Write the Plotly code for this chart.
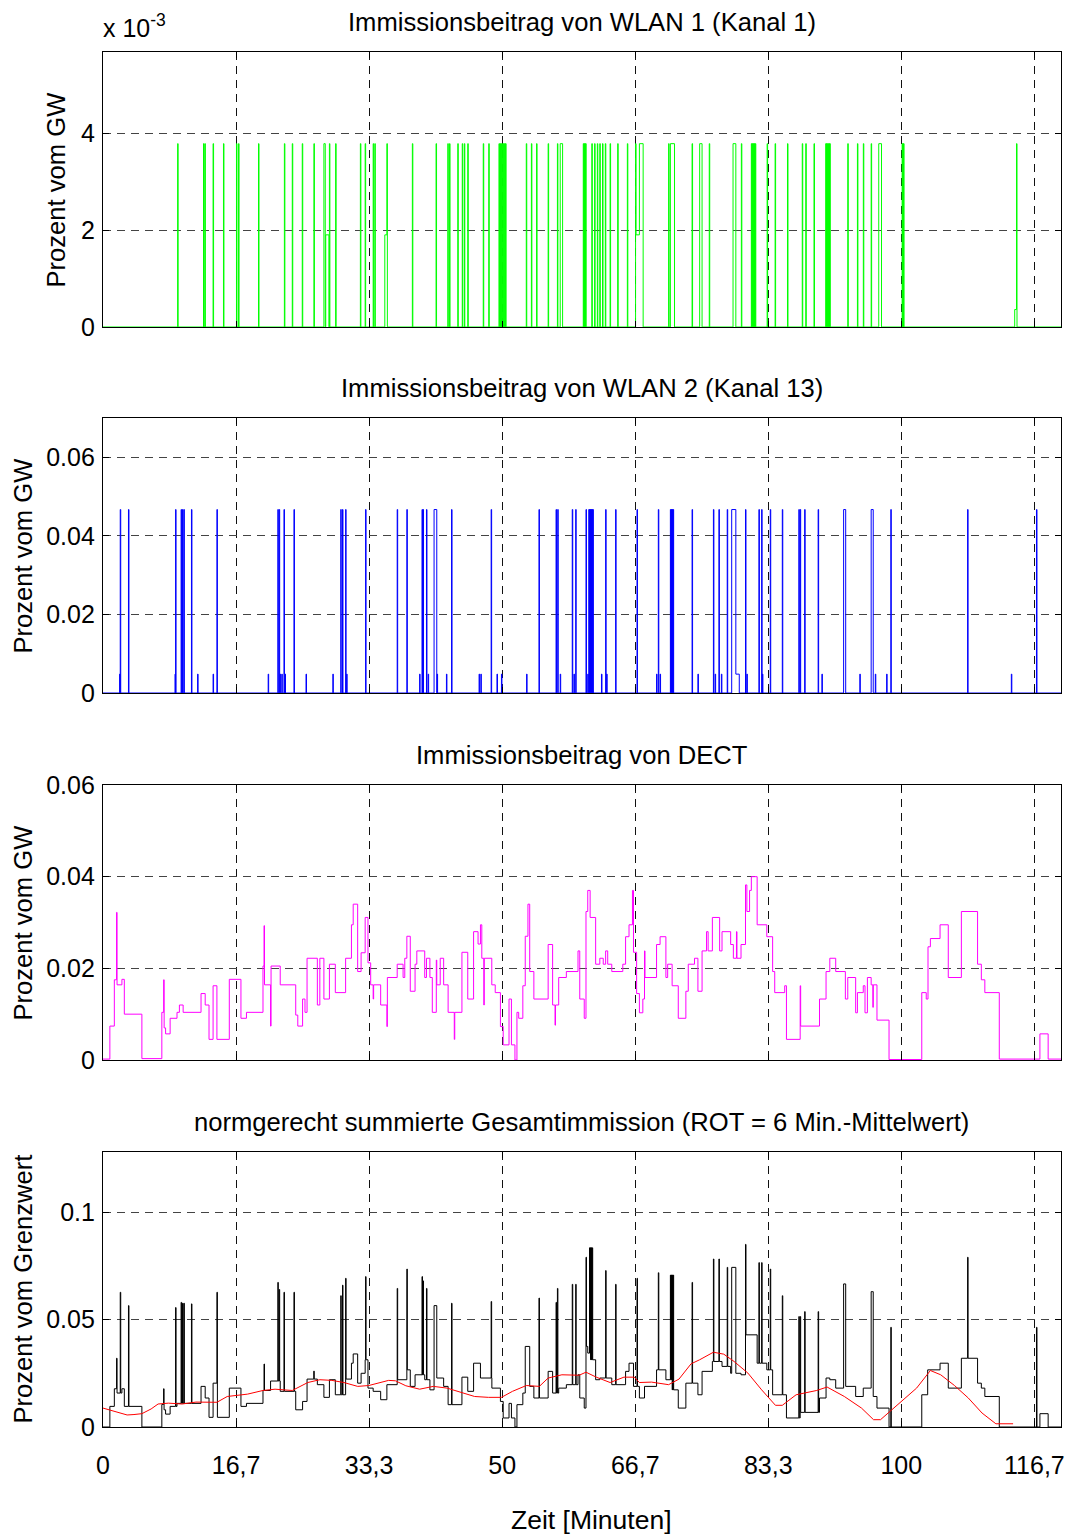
import plotly.graph_objects as go
from bisect import bisect_right

# ---------------------------------------------------------------- data
# time axis (minutes)
T_END = 120.0
x_tickvals = [0, 50 / 3, 100 / 3, 50, 200 / 3, 250 / 3, 100, 350 / 3]
x_ticktext = ["0", "16,7", "33,3", "50", "66,7", "83,3", "100", "116,7"]

SPIKE_W = 0.06  # duration of a single-sample burst (minutes)

# WLAN 1 (channel 1): single bursts at full level plus a few longer blocks
wlan1_level = 0.00378
wlan1_spikes = [9.35, 12.59, 12.76, 13.79, 15.09, 16.72, 16.98, 19.48, 22.72, 23.71,
                24.96, 26.42, 28.36, 29.14, 32.24, 32.84, 33.84, 34.05, 35.56, 38.75,
                41.72, 43.19, 43.41, 44.44, 45.0, 45.26, 45.69, 47.63, 48.32, 49.6,
                49.72, 49.84, 49.96, 50.08, 50.2, 50.32, 50.43, 53.02, 53.66, 54.31,
                55.76, 56.92, 60.16, 60.26, 60.36, 60.46, 61.23, 61.58, 61.92, 62.23,
                62.57, 62.92, 63.52, 64.47, 65.68, 66.71, 70.85, 73.79, 75.94, 79.96,
                81.21, 81.31, 81.41, 81.51, 81.61, 81.71, 83.19, 84.19, 85.74, 87.59,
                88.03, 89.06, 90.53, 90.63, 90.73, 90.83, 90.94, 91.04, 93.29, 94.5,
                95.24, 96.22, 100.1, 100.19, 100.28, 114.43]
wlan1_blocks = [(27.67, 27.84, 0.00378), (27.9, 28.3, 0.0019), (35.3, 35.56, 0.0019),
                (57.27, 57.57, 0.00378), (66.77, 67.19, 0.0019), (67.19, 67.66, 0.00378),
                (71.07, 71.59, 0.00378), (74.74, 75.04, 0.00378), (78.92, 79.27, 0.00378),
                (97.17, 97.52, 0.00378), (114.2, 114.43, 0.00036)]

# WLAN 2 (channel 13): beacon bursts and low-level traffic
wlan2_level = 0.0467
wlan2_spikes = [2.16, 3.19, 9.09, 9.78, 9.96, 10.13, 11.08, 14.27, 21.9, 22.07, 22.67,
                23.92, 29.78, 30.0, 30.39, 32.89, 36.85, 38.06, 39.96, 40.09, 40.52,
                43.66, 48.62, 54.61, 56.75, 56.96, 58.78, 59.21, 60.5, 60.85, 60.94,
                61.02, 61.1, 61.19, 61.28, 61.36, 62.96, 64.21, 66.89, 69.56, 71.07,
                71.16, 71.24, 71.33, 71.42, 73.79, 76.46, 77.15, 78.19, 80.48, 82.16,
                82.5, 83.58, 85.09, 87.16, 87.33, 87.89, 89.58, 98.68, 108.3, 116.93]
wlan2_small_level = 0.0048
wlan2_small = [2.08, 9.02, 11.85, 13.79, 20.69, 22.2, 22.4, 22.8, 25.43, 28.79, 30.52,
               39.66, 40.73, 41.85, 43.02, 47.11, 47.33, 49.35, 49.91, 53.06, 57.27,
               58.99, 60.72, 62.44, 63.09, 69.34, 69.78, 74.52, 76.68, 77.46, 80.65,
               82.6, 90.05, 94.8, 96.74, 98.16, 113.78]
wlan2_blocks = [(41.47, 41.81, 0.0467), (78.75, 79.27, 0.0467), (79.27, 79.7, 0.0048),
                (92.77, 93.03, 0.0467), (96.22, 96.48, 0.0467)]

# DECT: piecewise-constant level, value holds from each time until the next
dect_t = [0, 0.86, 1.42, 1.7, 1.76, 2.37, 2.67, 4.87, 7.37, 7.6, 7.66, 7.84, 8.41, 9.27,
          9.57, 10.04, 12.28, 12.8, 13.28, 13.79, 14.27, 15.82, 17.28, 17.97, 20.04,
          20.17, 20.23, 20.99, 21.05, 22.2, 24.14, 24.4, 25.0, 25.3, 25.56, 26.85, 27.16,
          27.67, 28.36, 29.1, 30.39, 31.12, 31.34, 31.9, 32.33, 32.84, 33.19, 33.53,
          33.84, 33.9, 34.78, 35.56, 35.62, 36.85, 37.59, 37.8, 38.06, 38.49, 39.09,
          39.31, 40.3, 40.52, 40.95, 41.25, 41.75, 41.81, 42.24, 42.67, 43.23, 44.0,
          44.06, 44.96, 45.69, 46.42, 46.98, 47.28, 47.45, 47.7, 47.76, 48.7, 49.13,
          49.78, 50.13, 50.86, 51.16, 51.6, 51.85, 52.07, 52.59, 52.89, 53.23, 53.45,
          53.97, 55.76, 56.32, 56.62, 56.68, 57.08, 58.04, 59.5, 59.72, 60.28, 60.5,
          60.72, 61.02, 61.71, 62.23, 62.66, 62.96, 63.22, 63.73, 65.11, 65.46, 65.89,
          66.32, 66.45, 66.84, 67.19, 67.62, 67.83, 67.89, 69.34, 69.78, 70.51, 70.73,
          71.29, 72.06, 73.01, 73.31, 74.09, 74.52, 75.04, 75.6, 75.8, 76.33, 77.24,
          77.54, 78.62, 78.96, 79.35, 79.41, 79.92, 80.48, 80.65, 80.99, 81.21, 81.94,
          83.15, 83.88, 84.14, 85.39, 85.61, 87.33, 87.39, 89.75, 90.57, 91.04, 91.78,
          92.99, 93.29, 94.28, 94.5, 95.23, 95.45, 95.75, 96.22, 96.43, 96.49, 96.95,
          98.46, 102.56, 103.12, 103.34, 103.64, 104.85, 105.88, 107.52, 109.55, 110.02,
          110.46, 112.27, 117.36, 118.39, 120.0]
dect_v = [0.0002, 0.0074, 0.0175, 0.0322, 0.0164, 0.0176, 0.010, 0.0003, 0.0104, 0.0175,
          0.007, 0.0057, 0.0091, 0.0104, 0.012, 0.0104, 0.0145, 0.012, 0.0045, 0.0162,
          0.0045, 0.0176, 0.0091, 0.0104, 0.0205, 0.0293, 0.0164, 0.0074, 0.0205, 0.0164,
          0.0098, 0.0074, 0.0133, 0.0104, 0.0222, 0.012, 0.0222, 0.0133, 0.0209, 0.0147,
          0.0222, 0.0295, 0.034, 0.0193, 0.0234, 0.0311, 0.0212, 0.0164, 0.0133, 0.0164,
          0.012, 0.0073, 0.018, 0.0209, 0.018, 0.0222, 0.027, 0.015, 0.0209, 0.0238,
          0.018, 0.0222, 0.018, 0.0104, 0.0218, 0.0164, 0.0222, 0.0164, 0.0104, 0.0045,
          0.0104, 0.0235, 0.0133, 0.028, 0.0253, 0.0295, 0.0222, 0.012, 0.0222, 0.0164,
          0.0147, 0.0073, 0.0033, 0.0133, 0.0033, 0.0, 0.0104, 0.0091, 0.0162, 0.027,
          0.034, 0.0193, 0.0133, 0.0252, 0.012, 0.0076, 0.012, 0.018, 0.0193, 0.0238,
          0.0133, 0.0091, 0.0324, 0.037, 0.0311, 0.0209, 0.0222, 0.0209, 0.0238, 0.0209,
          0.0193, 0.0209, 0.0269, 0.0295, 0.037, 0.0235, 0.0145, 0.0103, 0.0133, 0.0238,
          0.018, 0.0252, 0.0269, 0.018, 0.0209, 0.0162, 0.0091, 0.015, 0.0209, 0.0222,
          0.015, 0.0238, 0.028, 0.0238, 0.0311, 0.0238, 0.028, 0.0252, 0.0222, 0.028,
          0.0222, 0.0252, 0.0382, 0.0324, 0.037, 0.040, 0.0295, 0.0269, 0.0193, 0.0147,
          0.0162, 0.0045, 0.0162, 0.0074, 0.0133, 0.0193, 0.0222, 0.0193, 0.0133, 0.018,
          0.0103, 0.0147, 0.0162, 0.0103, 0.018, 0.0164, 0.0115, 0.0164, 0.0087, 0.0001,
          0.0147, 0.0133, 0.0247, 0.0265, 0.0295, 0.018, 0.0324, 0.0209, 0.0175, 0.0147,
          0.0002, 0.0057, 0.0002, 0.0002]

# summed exposure: underlying level, burst peaks and 6-minute mean
total_t = [0, 0.86, 1.42, 1.7, 1.76, 2.37, 2.67, 4.87, 7.37, 7.59, 7.65, 7.84, 8.41, 9.27,
           12.28, 12.8, 13.28, 13.79, 14.27, 15.82, 17.28, 17.97, 20.04, 20.17, 20.23,
           20.99, 22.2, 24.14, 25.0, 25.56, 26.4, 26.46, 26.85, 27.67, 28.36, 29.1, 30.39,
           31.12, 31.34, 31.9, 32.33, 32.84, 33.19, 33.84, 34.78, 35.56, 36.85, 38.06,
           38.49, 39.09, 40.3, 40.95, 41.81, 42.67, 43.23, 44.96, 45.69, 46.42, 47.28,
           48.71, 49.78, 50.13, 50.86, 51.16, 51.6, 51.85, 52.59, 52.89, 53.45, 53.97,
           55.76, 56.32, 57.08, 58.04, 59.5, 59.72, 60.28, 60.5, 60.72, 61.02, 61.71,
           62.23, 63.73, 65.46, 65.89, 66.45, 67.19, 67.83, 69.34, 70.51, 71.29, 72.06,
           73.01, 74.52, 75.04, 76.33, 77.54, 78.62, 79.92, 80.48, 81.94, 83.15, 83.88,
           85.61, 87.33, 89.75, 90.57, 91.04, 91.78, 92.99, 94.28, 95.23, 96.43, 96.95,
           98.46, 102.56, 103.3, 104.85, 105.88, 107.52, 109.55, 110.02, 110.46, 112.27,
           117.36, 118.39, 120.0]
total_v = [0.0, 0.0096, 0.0178, 0.032, 0.0158, 0.0178, 0.0096, 0.0, 0.0105, 0.0178, 0.008,
           0.006, 0.0096, 0.011, 0.0189, 0.0135, 0.0045, 0.0204, 0.0045, 0.0181, 0.0096,
           0.011, 0.017, 0.0293, 0.017, 0.0214, 0.0166, 0.008, 0.0119, 0.0223, 0.026,
           0.0223, 0.0197, 0.0138, 0.022, 0.015, 0.0223, 0.0297, 0.034, 0.0204, 0.025,
           0.0313, 0.0181, 0.0166, 0.0127, 0.0197, 0.022, 0.0266, 0.0189, 0.0243, 0.022,
           0.0173, 0.0228, 0.0189, 0.0104, 0.0232, 0.0166, 0.0297, 0.0228, 0.0181, 0.0119,
           0.0042, 0.011, 0.0042, 0.0, 0.0104, 0.0158, 0.0375, 0.0189, 0.0135, 0.0259,
           0.0158, 0.0181, 0.0197, 0.0243, 0.0135, 0.0088, 0.0375, 0.0344, 0.0313, 0.022,
           0.0228, 0.0197, 0.0259, 0.0297, 0.0189, 0.0135, 0.0189, 0.0266, 0.022, 0.0173,
           0.0088, 0.0204, 0.015, 0.0259, 0.0305, 0.0282, 0.025, 0.0243, 0.0429, 0.0297,
           0.0266, 0.015, 0.0042, 0.0068, 0.0135, 0.0228, 0.022, 0.0181, 0.0189, 0.0142,
           0.0181, 0.0142, 0.0088, 0.0, 0.015, 0.0266, 0.0297, 0.0181, 0.032, 0.0204,
           0.0181, 0.0142, 0.0, 0.0062, 0.0, 0.0]
total_spike_t = [2.16, 3.19, 9.09, 9.78, 9.96, 10.13, 11.08, 14.27, 21.9, 22.07, 22.67,
                 23.92, 29.78, 30.0, 30.39, 32.89, 36.85, 38.06, 39.96, 40.09, 40.52,
                 43.66, 48.62, 54.61, 56.75, 56.92, 58.78, 59.21, 60.5, 60.94, 61.02,
                 61.1, 61.19, 61.28, 62.96, 64.21, 66.89, 69.56, 71.07, 71.16, 71.24,
                 71.33, 71.42, 73.79, 76.46, 77.15, 78.19, 80.48, 82.16, 82.5, 83.58,
                 85.09, 87.16, 87.33, 87.89, 89.58, 98.68, 108.3, 116.93]
total_spike_v = [0.0627, 0.0565, 0.0556, 0.058, 0.0576, 0.0576, 0.0573, 0.0627, 0.0673,
                 0.064, 0.0627, 0.0627, 0.0611, 0.066, 0.0692, 0.070, 0.0645, 0.0735,
                 0.070, 0.068, 0.0645, 0.0576, 0.0584, 0.060, 0.058, 0.0645, 0.0664,
                 0.0664, 0.079, 0.0834, 0.0834, 0.0834, 0.0834, 0.0834, 0.0728, 0.0664,
                 0.0692, 0.0718, 0.0707, 0.0707, 0.0707, 0.0707, 0.0707, 0.0673, 0.0782,
                 0.0782, 0.0743, 0.085, 0.0765, 0.0765, 0.0735, 0.0611, 0.0514, 0.0514,
                 0.0537, 0.0537, 0.0464, 0.079, 0.0464]
total_blocks = [(41.47, 41.81, 0.0565), (78.75, 79.27, 0.0743), (92.77, 93.03, 0.0666),
                (96.22, 96.48, 0.063)]

mean6_t = [0, 1.51, 3.02, 3.88, 4.87, 6.03, 6.9, 8.19, 9.91, 11.64, 14.27, 15.56, 16.55,
           18.1, 20.04, 21.55, 23.71, 25.65, 27.16, 28.66, 30.17, 31.9, 33.28, 34.05,
           35.78, 36.64, 37.93, 39.66, 41.38, 43.1, 44.4, 46.55, 48.28, 49.91, 51.29,
           53.02, 54.66, 55.76, 57.48, 59.64, 60.5, 61.79, 63.52, 65.25, 66.54, 67.19,
           68.7, 70.85, 72.15, 73.66, 74.74, 76.46, 77.76, 79.05, 80.78, 82.5, 84.23,
           85.09, 86.82, 89.4, 90.7, 92.86, 95.01, 96.52, 97.39, 99.76, 101.91, 103.64,
           104.93, 106.66, 108.39, 110.11, 111.84, 114.0]
mean6_v = [0.0088, 0.0073, 0.0056, 0.0058, 0.0062, 0.0084, 0.0107, 0.0111, 0.0107, 0.0116,
           0.0115, 0.0142, 0.0146, 0.0153, 0.017, 0.0176, 0.017, 0.0207, 0.022, 0.0217,
           0.0207, 0.0189, 0.0193, 0.0201, 0.0217, 0.0215, 0.0192, 0.0176, 0.0189, 0.0181,
           0.0166, 0.0142, 0.0138, 0.0138, 0.0166, 0.0193, 0.0189, 0.0228, 0.0243, 0.0241,
           0.0255, 0.0232, 0.0207, 0.0232, 0.0232, 0.0207, 0.0209, 0.0197, 0.0223, 0.0294,
           0.0313, 0.0348, 0.0339, 0.0305, 0.0251, 0.0173, 0.0101, 0.0101, 0.015, 0.017,
           0.0186, 0.0142, 0.0088, 0.0034, 0.0034, 0.0111, 0.0181, 0.0263, 0.0243, 0.0193,
           0.0135, 0.0065, 0.0015, 0.0015]


# ---------------------------------------------------------------- helpers
def pulse_train(base_t, base_v, pulses):
    """Merge a step baseline with (start, end, level) pulses into hv step points."""
    edges = set(base_t)
    for a, b, _ in pulses:
        edges.add(a)
        edges.add(b)
    xs = sorted(e for e in edges if e <= T_END)
    ys = []
    for t in xs:
        v = base_v[bisect_right(base_t, t) - 1]
        for a, b, h in pulses:
            if a <= t < b:
                v = h
        ys.append(v)
    return xs, ys


def spikes(times, level):
    return [(t, t + SPIKE_W, level) for t in times]


w1_x, w1_y = pulse_train([0, T_END], [0, 0],
                         spikes(wlan1_spikes, wlan1_level) + wlan1_blocks)
w2_x, w2_y = pulse_train([0, T_END], [0, 0],
                         spikes(wlan2_spikes, wlan2_level)
                         + spikes(wlan2_small, wlan2_small_level) + wlan2_blocks)
de_x, de_y = pulse_train(dect_t, dect_v, [])
to_x, to_y = pulse_train(total_t, total_v,
                         [(t, t + SPIKE_W, v) for t, v in zip(total_spike_t, total_spike_v)]
                         + total_blocks)

# ---------------------------------------------------------------- figure
FONT = "Liberation Sans, Arial, Helvetica, sans-serif"
FS = 25          # tick labels
FS_T = 25.6      # titles and axis labels
W, H = 1082, 1535
L, R, T, B = 103, 21, 52, 108
PH = H - T - B  # plot-area height in px


def py(p):
    """pixel row -> paper y"""
    return (H - B - p) / PH


def px(p):
    return (p - L) / (W - L - R)


panels = [  # (top px, bottom px)
    (52, 327), (418, 693), (785, 1060), (1152, 1427)]

fig = go.Figure()
fig.add_trace(go.Scatter(x=w1_x, y=w1_y, mode="lines", line=dict(color="#00ff00", width=1, shape="hv"),
                         xaxis="x", yaxis="y"))
fig.add_trace(go.Scatter(x=w2_x, y=w2_y, mode="lines", line=dict(color="#0000ff", width=1, shape="hv"),
                         xaxis="x2", yaxis="y2"))
fig.add_trace(go.Scatter(x=de_x, y=de_y, mode="lines", line=dict(color="#ff00ff", width=1, shape="hv"),
                         xaxis="x3", yaxis="y3"))
fig.add_trace(go.Scatter(x=to_x, y=to_y, mode="lines", line=dict(color="#000000", width=1, shape="hv"),
                         xaxis="x4", yaxis="y4"))
fig.add_trace(go.Scatter(x=mean6_t, y=mean6_v, mode="lines", line=dict(color="#ff0000", width=1),
                         xaxis="x4", yaxis="y4"))

y_specs = [
    dict(range=[0, 0.00567], tickvals=[0, 0.002, 0.004], ticktext=["0", "2", "4"]),
    dict(range=[0, 0.07], tickvals=[0, 0.02, 0.04, 0.06], ticktext=["0", "0.02", "0.04", "0.06"]),
    dict(range=[0, 0.06], tickvals=[0, 0.02, 0.04, 0.06], ticktext=["0", "0.02", "0.04", "0.06"]),
    dict(range=[0, 0.128], tickvals=[0, 0.05, 0.1], ticktext=["0", "0.05", "0.1"]),
]

common = dict(showline=True, linecolor="black", linewidth=1.2, mirror="ticks",
              ticks="inside", ticklen=6, tickcolor="black", zeroline=False,
              showgrid=True, griddash="8px,6px", gridwidth=1,
              tickfont=dict(family=FONT, size=FS, color="black"))

layout = dict(width=W, height=H, margin=dict(l=L, r=R, t=T, b=B),
              paper_bgcolor="white", plot_bgcolor="white", showlegend=False,
              font=dict(family=FONT, size=FS, color="black"))

for i, ((top, bot), ys) in enumerate(zip(panels, y_specs)):
    k = "" if i == 0 else str(i + 1)
    last = i == 3
    layout["xaxis" + k] = dict(common, domain=[0, 1], range=[0, T_END], anchor="y" + k,
                               tickvals=x_tickvals, ticktext=x_ticktext,
                               showticklabels=last, ticklabelstandoff=16,
                               gridcolor="#111111")
    layout["yaxis" + k] = dict(common, domain=[py(bot), py(top)], anchor="x" + k,
                               gridcolor="#444444", ticklabelstandoff=2, **ys)

titles = ["Immissionsbeitrag von WLAN 1 (Kanal 1)",
          "Immissionsbeitrag von WLAN 2 (Kanal 13)",
          "Immissionsbeitrag von DECT",
          "normgerecht summierte Gesamtimmission (ROT = 6 Min.-Mittelwert)"]
title_rows = [22, 388, 755, 1122]
ylabels = ["Prozent vom GW", "Prozent vom GW", "Prozent vom GW", "Prozent vom Grenzwert"]
ylabel_cols = [56, 22, 22, 22]

ann = []
for (top, bot), t, r, yl, c in zip(panels, titles, title_rows, ylabels, ylabel_cols):
    ann.append(dict(text=t, x=0.4995, y=py(r), xref="paper", yref="paper",
                    xanchor="center", yanchor="middle", showarrow=False,
                    font=dict(family=FONT, size=FS_T)))
    ann.append(dict(text=yl, x=px(c), y=py((top + bot) / 2), xref="paper", yref="paper",
                    xanchor="center", yanchor="middle", textangle=-90, showarrow=False,
                    font=dict(family=FONT, size=FS_T)))
ann.append(dict(text="x 10<sup>-3</sup>", x=px(101), y=py(26), xref="paper", yref="paper",
                xanchor="left", yanchor="middle", showarrow=False,
                font=dict(family=FONT, size=FS)))
ann.append(dict(text="Zeit [Minuten]", x=px(591), y=py(1520), xref="paper", yref="paper",
                xanchor="center", yanchor="middle", showarrow=False,
                font=dict(family=FONT, size=26.5)))
layout["annotations"] = ann

fig.update_layout(**layout)
fig.write_html("out.html")
